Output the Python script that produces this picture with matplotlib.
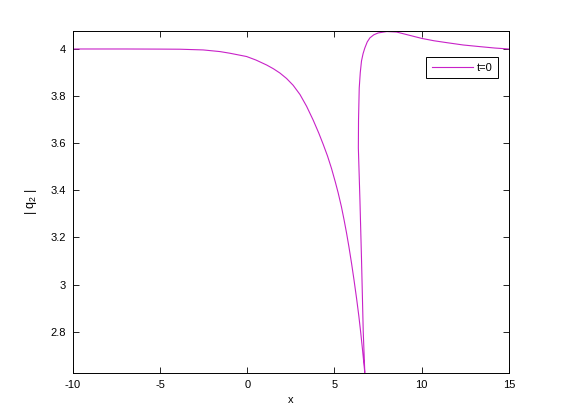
import matplotlib
matplotlib.use('Agg')
import matplotlib.pyplot as plt
from matplotlib.ticker import FormatStrFormatter

plt.rcParams['font.family'] = ['Liberation Sans', 'DejaVu Sans']
plt.rcParams['mathtext.fontset'] = 'custom'
plt.rcParams['mathtext.rm'] = 'Liberation Sans'
plt.rcParams['mathtext.it'] = 'Liberation Sans'
plt.rcParams['axes.unicode_minus'] = False

# valeurs (|q2| a t=0), branche gauche puis branche droite
x_vals = [-10, -7, -5, -3.86, -2.53, -1.57, -1.0, -0.04, 0.5, 1.11, 1.5, 1.87,
          2.25, 2.63, 3.02, 3.4, 3.78, 4.1, 4.35, 4.6, 4.83, 5.05, 5.21, 5.4,
          5.55, 5.69, 5.83, 5.98, 6.12, 6.27, 6.4, 6.5, 6.6, 6.7, 6.74,
          6.65, 6.55, 6.46, 6.37, 6.38, 6.42, 6.48, 6.55, 6.64, 6.74, 6.88,
          7.03, 7.25, 7.5, 8.0, 8.56, 9.2, 10.0, 10.7, 11.43, 12.38, 13.34,
          14.2, 15.0]
q2_vals = [4.0, 4.0, 3.9995, 3.999, 3.996, 3.989, 3.982, 3.968, 3.953, 3.932, 3.916, 3.898,
           3.875, 3.846, 3.807, 3.757, 3.698, 3.643, 3.596, 3.546, 3.493, 3.435, 3.39, 3.33,
           3.275, 3.22, 3.16, 3.09, 3.02, 2.94, 2.865, 2.8, 2.73, 2.655, 2.626,
           2.8, 3.11, 3.36, 3.58, 3.7, 3.834, 3.9, 3.949, 3.98, 4.004, 4.03,
           4.047, 4.06, 4.068, 4.074, 4.072, 4.06, 4.045, 4.035, 4.027, 4.017, 4.01,
           4.004, 4.0]

xticks = [-10, -5, 0, 5, 10, 15]
yticks = [2.8, 3.0, 3.2, 3.4, 3.6, 3.8, 4.0]

fig = plt.figure(figsize=(5.61, 4.2), dpi=100)
ax = fig.add_axes([0.13, 0.1126, 0.777, 0.8134])

ax.plot(x_vals, q2_vals, color='#C822C8', linewidth=0.8, label='t=0')

ax.set_xlim(-10, 15)
ax.set_ylim(2.626, 4.076)
ax.set_xticks(xticks)
ax.set_yticks(yticks)
ax.yaxis.set_major_formatter(FormatStrFormatter('%g'))
ax.tick_params(direction='in', length=4, width=0.6, labelsize=8, top=True, right=True, pad=5)
for s in ax.spines.values():
    s.set_linewidth(0.7)

ax.set_xlabel('x', fontsize=8, labelpad=4)
ax.set_ylabel(r'$\mathrm{|\ q_2\ |}$', fontsize=9, labelpad=8)

leg = ax.legend(loc='upper right', bbox_to_anchor=(0.975, 0.923), borderaxespad=0,
                fontsize=8, fancybox=False, edgecolor='black', framealpha=1,
                handlelength=3.7, handletextpad=0.35, borderpad=0.5)
leg.get_frame().set_linewidth(0.7)

fig.savefig('out.png', dpi=100)
